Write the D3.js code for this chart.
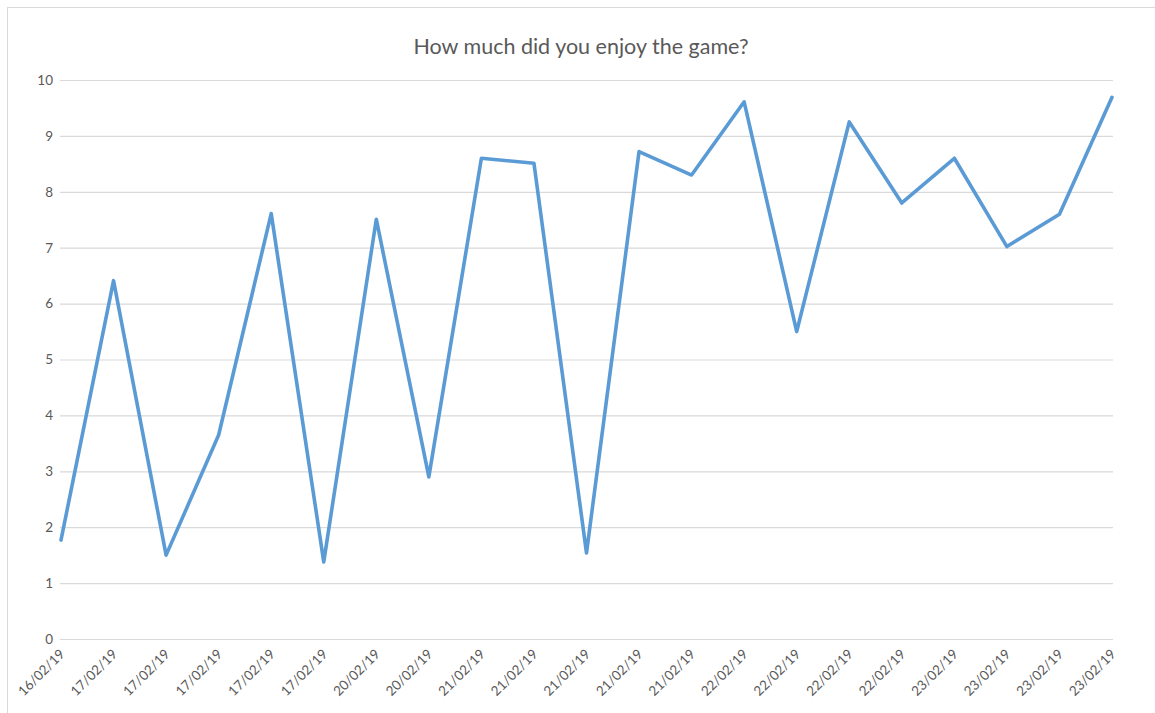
<!DOCTYPE html>
<html>
<head>
<meta charset="utf-8">
<script src="https://cdn.jsdelivr.net/npm/d3@7"></script>
<style>
  body { margin: 0; background: #fff; }
  text { font-family: Lato, "Open Sans", sans-serif; fill: #595959; }
</style>
</head>
<body>
<svg id="chart" width="1155" height="713"></svg>
<script>
var dates = ["16/02/19", "17/02/19", "17/02/19", "17/02/19", "17/02/19", "17/02/19",
  "20/02/19", "20/02/19", "21/02/19", "21/02/19", "21/02/19", "21/02/19", "21/02/19",
  "22/02/19", "22/02/19", "22/02/19", "22/02/19", "23/02/19", "23/02/19", "23/02/19", "23/02/19"];
var scores = [1.77, 6.41, 1.5, 3.65, 7.61, 1.38, 7.51, 2.9, 8.6, 8.51, 1.54,
  8.72, 8.3, 9.61, 5.5, 9.25, 7.8, 8.6, 7.02, 7.6, 9.69];
var yTicks = [0, 1, 2, 3, 4, 5, 6, 7, 8, 9, 10];
var title = "How much did you enjoy the game?";

var Config = {
  Left: 61,
  Right: 1112,
  Top: 80,
  Bottom: 639,
  LineColor: "#5b9bd5",
  GridColor: "#d9d9d9",
};

var svg = d3.select("#chart");

// chart area border (cut off at right / bottom like the screenshot)
svg.append("rect")
  .attr("x", 7.5).attr("y", 7.5)
  .attr("width", 1160).attr("height", 720)
  .attr("fill", "none")
  .attr("stroke", "#d9d9d9");

// index-based point scale so repeated dates stay separate
var x = d3.scalePoint()
  .domain(d3.range(dates.length))
  .range([Config.Left, Config.Right])
  .padding(0);

var y = d3.scaleLinear()
  .domain([0, 10])
  .range([Config.Bottom, Config.Top]);

// gridlines + y labels
var yAxis = d3.axisLeft(y)
  .tickValues(yTicks)
  .tickSize(-(Config.Right - Config.Left + 2))
  .tickPadding(7)
  .tickFormat(d3.format("d"));

var gy = svg.append("g")
  .attr("transform", "translate(" + (Config.Left - 1) + ",0)")
  .call(yAxis);
gy.select(".domain").remove();
gy.selectAll("line").attr("stroke", Config.GridColor).attr("stroke-width", 1.2);
gy.selectAll("text").attr("font-size", 13.5).style("fill", "#595959");

// x labels
var xAxis = d3.axisBottom(x)
  .tickSize(0)
  .tickFormat(function (i) { return dates[i]; });

var gx = svg.append("g")
  .attr("transform", "translate(0," + Config.Bottom + ")")
  .call(xAxis);
gx.select(".domain").remove();
gx.selectAll("text")
  .attr("font-size", 13.5)
  .style("fill", "#595959")
  .attr("text-anchor", "end")
  .attr("dy", null)
  .attr("y", 0)
  .attr("transform", "translate(4,16) rotate(-45)");

// the line
var line = d3.line()
  .x(function (d, i) { return x(i); })
  .y(function (d) { return y(d); });

svg.append("path")
  .datum(scores)
  .attr("d", line)
  .attr("fill", "none")
  .attr("stroke", Config.LineColor)
  .attr("stroke-width", 3.6)
  .attr("stroke-linejoin", "round")
  .attr("stroke-linecap", "round");

// title
svg.append("text")
  .attr("x", 581)
  .attr("y", 54)
  .attr("text-anchor", "middle")
  .attr("font-size", 21.5)
  .text(title);
</script>
</body>
</html>
